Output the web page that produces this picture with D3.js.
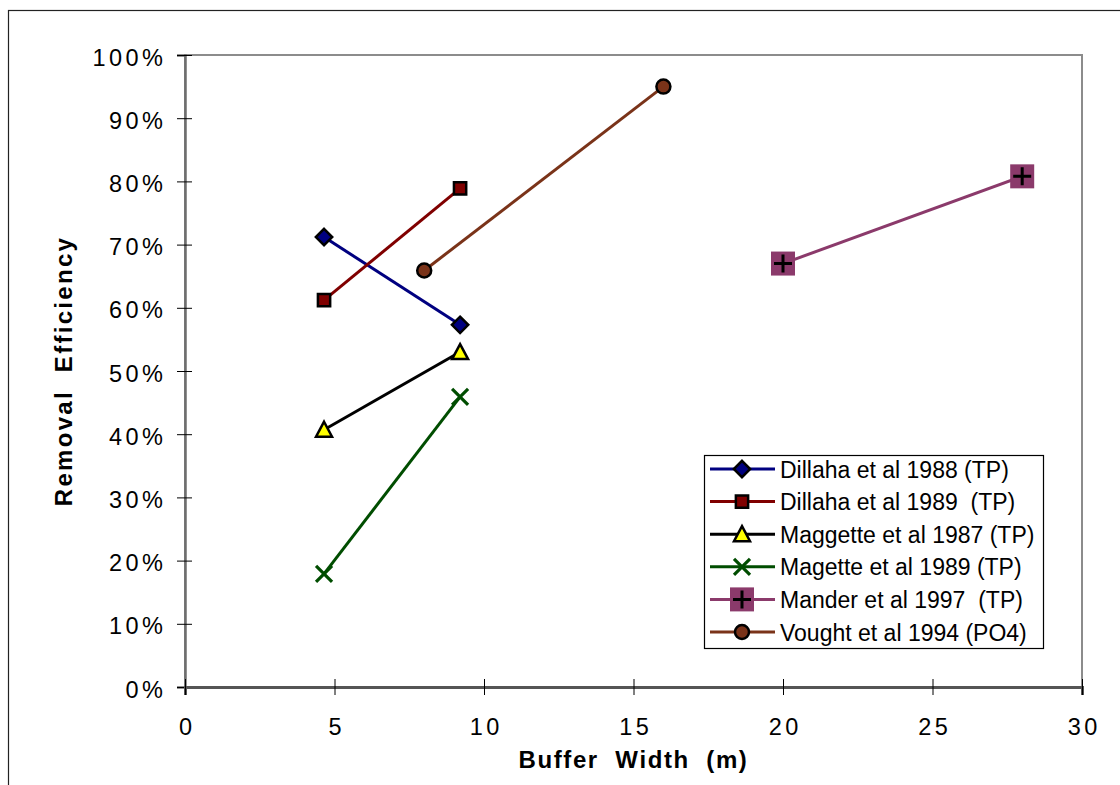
<!DOCTYPE html>
<html>
<head>
<meta charset="utf-8">
<script src="https://cdn.jsdelivr.net/npm/d3@7"></script>
<style>
    body { margin: 0; background: #fff; }
    svg { display: block; font-family: "Liberation Sans", Arial, sans-serif; }
</style>
</head>
<body>
<div id="chart"></div>
<script>

// datos (ancho en m, eficiencia en fraccion)
var seriesNames = ["Dillaha et al 1988 (TP)", "Dillaha et al 1989  (TP)", "Maggette et al 1987 (TP)",
    "Magette et al 1989 (TP)", "Mander et al 1997  (TP)", "Vought et al 1994 (PO4)"];
var dillaha1988 = [[4.65, 0.712], [9.2, 0.573]];
var dillaha1989 = [[4.65, 0.612], [9.2, 0.789]];
var maggette1987 = [[4.65, 0.407], [9.2, 0.530]];
var magette1989 = [[4.65, 0.179], [9.2, 0.459]];
var mander1997 = [[20, 0.670], [28, 0.808]];
var vought1994 = [[8, 0.659], [16, 0.950]];
var xTicks = [0, 5, 10, 15, 20, 25, 30];
var yTicks = [0, 0.1, 0.2, 0.3, 0.4, 0.5, 0.6, 0.7, 0.8, 0.9, 1.0];

var estilos = [
    { datos: dillaha1988, linea: "#000080", marca: "diamond", relleno: "#000080" },
    { datos: dillaha1989, linea: "#800000", marca: "square", relleno: "#800000" },
    { datos: maggette1987, linea: "#000000", marca: "triangle", relleno: "#ffff00" },
    { datos: magette1989, linea: "#004d00", marca: "x", relleno: "none" },
    { datos: mander1997, linea: "#8b3a6b", marca: "bigsquare", relleno: "#8b3a6b" },
    { datos: vought1994, linea: "#7a3319", marca: "circle", relleno: "#7a3319" }
];

var W = 1120, H = 785;
var izq = 185, der = 1082, arriba = 55, abajo = 687;

var svg = d3.select("#chart").append("svg")
    .attr("width", W)
    .attr("height", H);

// marco exterior
svg.append("rect")
    .attr("x", 8.5).attr("y", 10.5)
    .attr("width", W + 20).attr("height", H + 20)
    .attr("fill", "none")
    .attr("stroke", "#222")
    .attr("stroke-width", 1.2);

var x = d3.scaleLinear().domain([0, 30]).range([izq, der]);
var y = d3.scaleLinear().domain([0, 1]).range([abajo, arriba]);

// area del grafico
svg.append("rect")
    .attr("x", izq).attr("y", arriba)
    .attr("width", der - izq).attr("height", abajo - arriba)
    .attr("fill", "none")
    .attr("stroke", "#8c8c8c")
    .attr("stroke-width", 2);

// eje y
var ejeY = svg.append("g")
    .attr("transform", "translate(" + izq + ",0)")
    .call(d3.axisLeft(y).tickValues(yTicks).tickSize(8).tickFormat(d3.format(".0%")));
ejeY.select(".domain").attr("stroke", "#6e6e6e").attr("stroke-width", 2.5);
ejeY.selectAll(".tick line").attr("stroke", "#000").attr("x2", -8).attr("x1", 7);
ejeY.selectAll(".tick text")
    .attr("x", -18.5)
    .attr("y", 2.5)
    .attr("font-size", 23.5)
    .attr("letter-spacing", 3.5)
    .attr("fill", "#000")
    .style("font-family", "'Liberation Sans', Arial, sans-serif");

// eje x
var ejeX = svg.append("g")
    .attr("transform", "translate(0," + abajo + ")")
    .call(d3.axisBottom(x).tickValues(xTicks).tickSize(8).tickFormat(d3.format("d")));
ejeX.select(".domain").attr("stroke", "#555").attr("stroke-width", 3);
ejeX.selectAll(".tick line").attr("stroke", "#000").attr("y1", -8).attr("y2", 8);
ejeX.selectAll(".tick text")
    .attr("y", 31)
    .attr("dy", "0.71em")
    .attr("dx", 1.7)
    .attr("font-size", 23.5)
    .attr("letter-spacing", 3.5)
    .attr("fill", "#000")
    .style("font-family", "'Liberation Sans', Arial, sans-serif");

// titulos
svg.append("text")
    .attr("x", (izq + der) / 2)
    .attr("y", 768)
    .attr("text-anchor", "middle")
    .attr("font-size", 24)
    .attr("font-weight", "bold")
    .attr("letter-spacing", 1.6)
    .style("white-space", "pre")
    .text("Buffer  Width  (m)");

svg.append("text")
    .attr("transform", "translate(72," + ((arriba + abajo) / 2) + ") rotate(-90)")
    .attr("text-anchor", "middle")
    .attr("font-size", 24)
    .attr("font-weight", "bold")
    .attr("letter-spacing", 2.3)
    .style("white-space", "pre")
    .text("Removal  Efficiency");

function dibujaMarca(g, tipo, relleno, color) {
    if (tipo == "diamond") {
        g.append("path")
            .attr("d", d3.symbol().type(d3.symbolDiamond2).size(170)())
            .attr("fill", relleno).attr("stroke", "#000").attr("stroke-width", 2.5);
    } else if (tipo == "square") {
        g.append("path")
            .attr("d", d3.symbol().type(d3.symbolSquare).size(150)())
            .attr("fill", relleno).attr("stroke", "#000").attr("stroke-width", 2.5);
    } else if (tipo == "triangle") {
        g.append("path")
            .attr("d", "M0,-8L8,7L-8,7Z")
            .attr("fill", relleno).attr("stroke", "#000").attr("stroke-width", 2.5)
            .attr("stroke-linejoin", "miter");
    } else if (tipo == "x") {
        g.append("path")
            .attr("d", "M-8,-8L8,8M-8,8L8,-8")
            .attr("stroke", color).attr("stroke-width", 3.2);
    } else if (tipo == "bigsquare") {
        g.append("rect")
            .attr("x", -12).attr("y", -12).attr("width", 24).attr("height", 24)
            .attr("fill", relleno);
        g.append("path")
            .attr("d", "M-9,0L9,0M0,-9L0,9")
            .attr("stroke", "#000").attr("stroke-width", 3);
    } else if (tipo == "circle") {
        g.append("circle")
            .attr("r", 7)
            .attr("fill", relleno).attr("stroke", "#000").attr("stroke-width", 2.5);
    }
}

var linea = d3.line()
    .x(function (d) { return x(d[0]); })
    .y(function (d) { return y(d[1]); });

for (var i = 0; i < estilos.length; i++) {
    var e = estilos[i];
    svg.append("path")
        .attr("d", linea(e.datos))
        .attr("fill", "none")
        .attr("stroke", e.linea)
        .attr("stroke-width", 3);
}
for (var i = 0; i < estilos.length; i++) {
    var e = estilos[i];
    for (var j = 0; j < e.datos.length; j++) {
        var g = svg.append("g")
            .attr("transform", "translate(" + x(e.datos[j][0]) + "," + y(e.datos[j][1]) + ")");
        dibujaMarca(g, e.marca, e.relleno, e.linea);
    }
}

// leyenda
var leyenda = svg.append("g").attr("transform", "translate(704,455)");
leyenda.append("rect")
    .attr("x", 0.5).attr("y", 0.5)
    .attr("width", 339).attr("height", 193)
    .attr("fill", "#fff")
    .attr("stroke", "#000")
    .attr("stroke-width", 1.2);

for (var i = 0; i < seriesNames.length; i++) {
    var e = estilos[i];
    var fila = leyenda.append("g").attr("transform", "translate(0," + (14 + i * 32.6) + ")");
    fila.append("line")
        .attr("x1", 6).attr("x2", 71)
        .attr("stroke", e.linea)
        .attr("stroke-width", 3);
    var m = fila.append("g").attr("transform", "translate(38,0)");
    dibujaMarca(m, e.marca, e.relleno, e.linea);
    fila.append("text")
        .attr("x", 76)
        .attr("y", 0.5)
        .attr("dy", "0.35em")
        .attr("font-size", 23)
        .style("white-space", "pre")
        .text(seriesNames[i]);
}

</script>
</body>
</html>
